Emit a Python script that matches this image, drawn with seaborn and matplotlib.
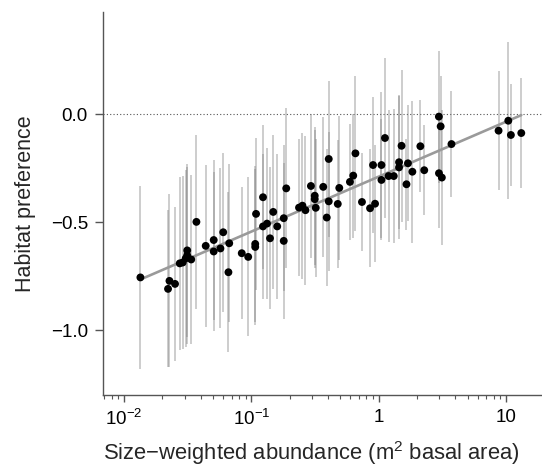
import numpy as np
import pandas as pd
import matplotlib
matplotlib.use("Agg")
import matplotlib.pyplot as plt
import matplotlib.ticker as mticker
import seaborn as sns

# ---- data ----
abundance = [0.01345, 0.02275, 0.02217, 0.02516, 0.02740, 0.02891, 0.03053, 0.03137,
             0.03137, 0.03372, 0.03704, 0.04383, 0.05065, 0.05065, 0.05718, 0.06015,
             0.06706, 0.06609, 0.0841, 0.0945, 0.1073, 0.1073, 0.1089, 0.1235,
             0.1235, 0.1328, 0.1402, 0.1486, 0.1597, 0.1797, 0.1797, 0.1880,
             0.2369, 0.2520, 0.2661, 0.2938, 0.3148, 0.3148, 0.3206, 0.3671,
             0.3911, 0.4055, 0.4055, 0.4774, 0.4906, 0.5950, 0.6315, 0.6572,
             0.7395, 0.8560, 0.9370, 0.9036, 1.052, 1.052, 1.121, 1.196,
             1.314, 1.446, 1.446, 1.513, 1.654, 1.699, 1.840, 2.126,
             2.281, 2.972, 3.069, 2.977, 3.136, 3.732, 8.747, 10.43,
             10.93, 13.19]
preference = [-0.756, -0.772, -0.809, -0.786, -0.691, -0.687, -0.668, -0.654,
              -0.631, -0.673, -0.499, -0.610, -0.583, -0.636, -0.622, -0.547,
              -0.598, -0.732, -0.644, -0.661, -0.601, -0.615, -0.462, -0.385,
              -0.520, -0.507, -0.575, -0.453, -0.520, -0.482, -0.587, -0.344,
              -0.433, -0.424, -0.445, -0.333, -0.378, -0.394, -0.434, -0.337,
              -0.479, -0.208, -0.404, -0.416, -0.342, -0.314, -0.285, -0.182,
              -0.407, -0.436, -0.415, -0.236, -0.236, -0.305, -0.111, -0.287,
              -0.287, -0.247, -0.223, -0.147, -0.325, -0.228, -0.267, -0.149,
              -0.260, -0.012, -0.057, -0.274, -0.294, -0.139, -0.077, -0.031,
              -0.097, -0.088]
std_error = [0.424, 0.40, 0.363, 0.355, 0.40, 0.40, 0.41, 0.41,
             0.40, 0.39, 0.402, 0.374, 0.37, 0.37, 0.37, 0.368,
             0.365, 0.37, 0.305, 0.368, 0.36, 0.36, 0.351, 0.333,
             0.337, 0.351, 0.328, 0.356, 0.337, 0.337, 0.36, 0.37,
             0.318, 0.337, 0.344, 0.331, 0.32, 0.32, 0.32, 0.324,
             0.317, 0.361, 0.32, 0.296, 0.333, 0.268, 0.287, 0.36,
             0.225, 0.273, 0.27, 0.314, 0.339, 0.28, 0.37, 0.305,
             0.308, 0.331, 0.31, 0.351, 0.21, 0.268, 0.328, 0.213,
             0.208, 0.305, 0.231, 0.254, 0.314, 0.245, 0.275, 0.364,
             0.234, 0.254]

x_ticks = [0.01, 0.1, 1, 10]
x_tick_labels = [r"$\mathregular{10^{-2}}$", r"$\mathregular{10^{-1}}$", "1", "10"]
y_ticks = [-1.0, -0.5, 0.0]
y_tick_labels = ["\u22121.0", "\u22120.5", "0.0"]

df = pd.DataFrame({"abundance": abundance, "preference": preference, "se": std_error})

# ---- style ----
sns.set_theme(style="ticks")
plt.rcParams["font.family"] = ["Liberation Sans", "DejaVu Sans"]
plt.rcParams["mathtext.fontset"] = "custom"
plt.rcParams["mathtext.rm"] = "Liberation Sans"
plt.rcParams["mathtext.it"] = "Liberation Sans:italic"
plt.rcParams["mathtext.bf"] = "Liberation Sans:bold"

fig = plt.figure(figsize=(5.42, 4.68), dpi=100)
ax = fig.add_axes([103 / 542, 1 - 395 / 468, 439 / 542, 383 / 468])

spine_col = "#555555"

# error bars
ax.vlines(df["abundance"], df["preference"] - df["se"], df["preference"] + df["se"],
          colors=(0.5, 0.5, 0.5), alpha=0.42, linewidth=1.3, zorder=1)

# zero reference line
ax.axhline(0, color="#555555", linestyle=(0, (1, 2)), linewidth=0.8, zorder=0)

# regression line (y ~ log10 x)
sns.regplot(data=df, x="abundance", y="preference", logx=True, scatter=False, ci=None,
            line_kws={"color": "#9a9a9a", "linewidth": 1.9, "zorder": 2}, ax=ax)

# points
sns.scatterplot(data=df, x="abundance", y="preference", color="black", s=32,
                edgecolor="none", linewidth=0, zorder=3, ax=ax)

ax.set_xscale("log")
ax.set_xlim(10 ** -2.165, 10 ** 1.283)
ax.set_ylim(-1.30, 0.472)

ax.xaxis.set_major_locator(mticker.FixedLocator(x_ticks))
ax.xaxis.set_major_formatter(mticker.FixedFormatter(x_tick_labels))
ax.xaxis.set_minor_locator(mticker.LogLocator(base=10, subs=np.arange(2, 10), numticks=20))
ax.xaxis.set_minor_formatter(mticker.NullFormatter())
ax.set_yticks(y_ticks)
ax.set_yticklabels(y_tick_labels)

for s in ["top", "right"]:
    ax.spines[s].set_visible(False)
for s in ["left", "bottom"]:
    ax.spines[s].set_color(spine_col)
    ax.spines[s].set_linewidth(1.0)

ax.tick_params(axis="both", which="major", direction="out", color=spine_col,
               labelsize=13.5, labelcolor="black", width=1.0)
ax.tick_params(axis="y", which="major", length=5.8, pad=5)
ax.tick_params(axis="x", which="major", length=5.0, pad=5)
ax.tick_params(axis="x", which="minor", length=3.0, width=0.8, color=spine_col)

ax.set_xlabel("Size\u2212weighted abundance (m$^2$ basal area)", fontsize=15.8)
ax.set_ylabel("Habitat preference", fontsize=15.5)
ax.xaxis.set_label_coords(0.475, -0.115)
ax.yaxis.set_label_coords(-0.152, 0.5)

fig.savefig("out.png", dpi=100)
